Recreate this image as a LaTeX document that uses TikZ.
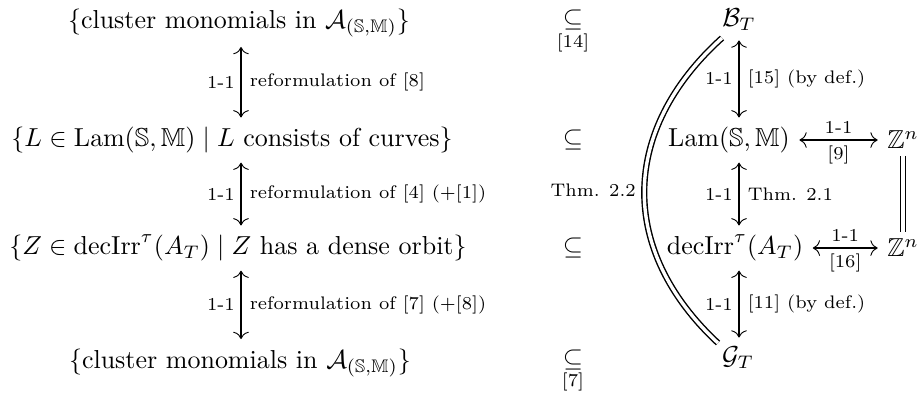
\documentclass[tikz,border=0pt]{standalone}
\usepackage{amsmath,amssymb}
\usetikzlibrary{arrows.meta}
\tikzset{
  tip/.tip={Computer Modern Rightarrow[length=2.8pt, width=6pt, line width=0.35pt]},
  bi/.style={tip-tip, line width=0.75pt, shorten <=1pt, shorten >=1pt},
  lab/.style={font=\scriptsize, inner sep=2pt},
  eqline/.style={double, double distance=1.3pt, line width=0.55pt},
  obj/.style={inner sep=2.5pt}
}
\begin{document}
\begin{tikzpicture}[x=0.385pt, y=-0.385pt]
\useasboundingbox (0,0) rectangle (920,398);
% left column
\node[obj] (r1) at (239,23) {$\{\text{cluster monomials in } \mathcal{A}_{(\mathbb S,\mathbb M)}\}$};
\node[obj] (r2) at (232,140) {$\{L\in \mathrm{Lam}(\mathbb S,\mathbb M) \mid L \text{ consists of curves}\}$};
\node[obj] (r3) at (238,248) {$\{Z \in \mathrm{decIrr}^\tau(A_T)\mid Z \text{ has a dense orbit}\}$};
\node[obj] (r4) at (240,363) {$\{\text{cluster monomials in } \mathcal{A}_{(\mathbb S,\mathbb M)}\}$};
% middle column
\node[obj] (s1) at (573,20) {$\subseteq$};
\node[lab] (c14) at (573,43) {[14]};
\node[obj] (s2) at (573,140) {$\subseteq$};
\node[obj] (s3) at (573,248) {$\subseteq$};
\node[obj] (s4) at (573,360) {$\subseteq$};
\node[lab] (c7) at (573,382) {[7]};
% right column
\node[obj] (b) at (739,20) {$\mathcal B_T$};
\node[obj] (lam) at (729,140) {$\mathrm{Lam}(\mathbb S,\mathbb M)$};
\node[obj] (dec) at (735,248) {$\mathrm{decIrr}^\tau(A_T)$};
\node[obj] (g) at (738,358) {$\mathcal G_T$};
\node[obj] (z1) at (903,140) {$\mathbb Z^n$};
\node[obj] (z2) at (903,248) {$\mathbb Z^n$};
\coordinate (bend1) at (722,38);
\coordinate (bend2) at (718,343);
% left arrows
\draw[bi] (r1.south -| 241,0) -- (r2.north -| 241,0)
  node[midway,left,lab] {1-1} node[midway,right,lab,xshift=1pt] {reformulation of [8]};
\draw[bi] (r2.south -| 241,0) -- (r3.north -| 241,0)
  node[midway,left,lab] {1-1} node[midway,right,lab,xshift=1pt] {reformulation of [4] (+[1])};
\draw[bi] (r3.south -| 241,0) -- (r4.north -| 241,0)
  node[midway,left,lab] {1-1} node[midway,right,lab,xshift=1pt] {reformulation of [7] (+[8])};
% right arrows
\draw[bi] (b.south) -- (b.south |- lam.north)
  node[midway,left,lab] {1-1} node[midway,right,lab,xshift=1pt] {[15] (by def.)};
\draw[bi] (b.south |- lam.south) -- (b.south |- dec.north)
  node[midway,left,lab] {1-1} node[midway,right,lab,xshift=1pt] {Thm. 2.1};
\draw[bi] (b.south |- dec.south) -- (b.south |- g.north)
  node[midway,left,lab] {1-1} node[midway,right,lab,xshift=1pt] {[11] (by def.)};
\draw[bi] (lam.east) -- (z1.west)
  node[midway,above,lab] {1-1} node[midway,below,lab] {[9]};
\draw[bi] (dec.east) -- (z2.west)
  node[midway,above,lab] {1-1} node[midway,below,lab] {[16]};
\draw[eqline] (z1.south) -- (z2.north);
\draw[eqline] (bend1) .. controls (620,130) and (618,250) .. (bend2)
  node[pos=0.5,left,lab,xshift=-1pt] {Thm. 2.2};
\end{tikzpicture}
\end{document}
